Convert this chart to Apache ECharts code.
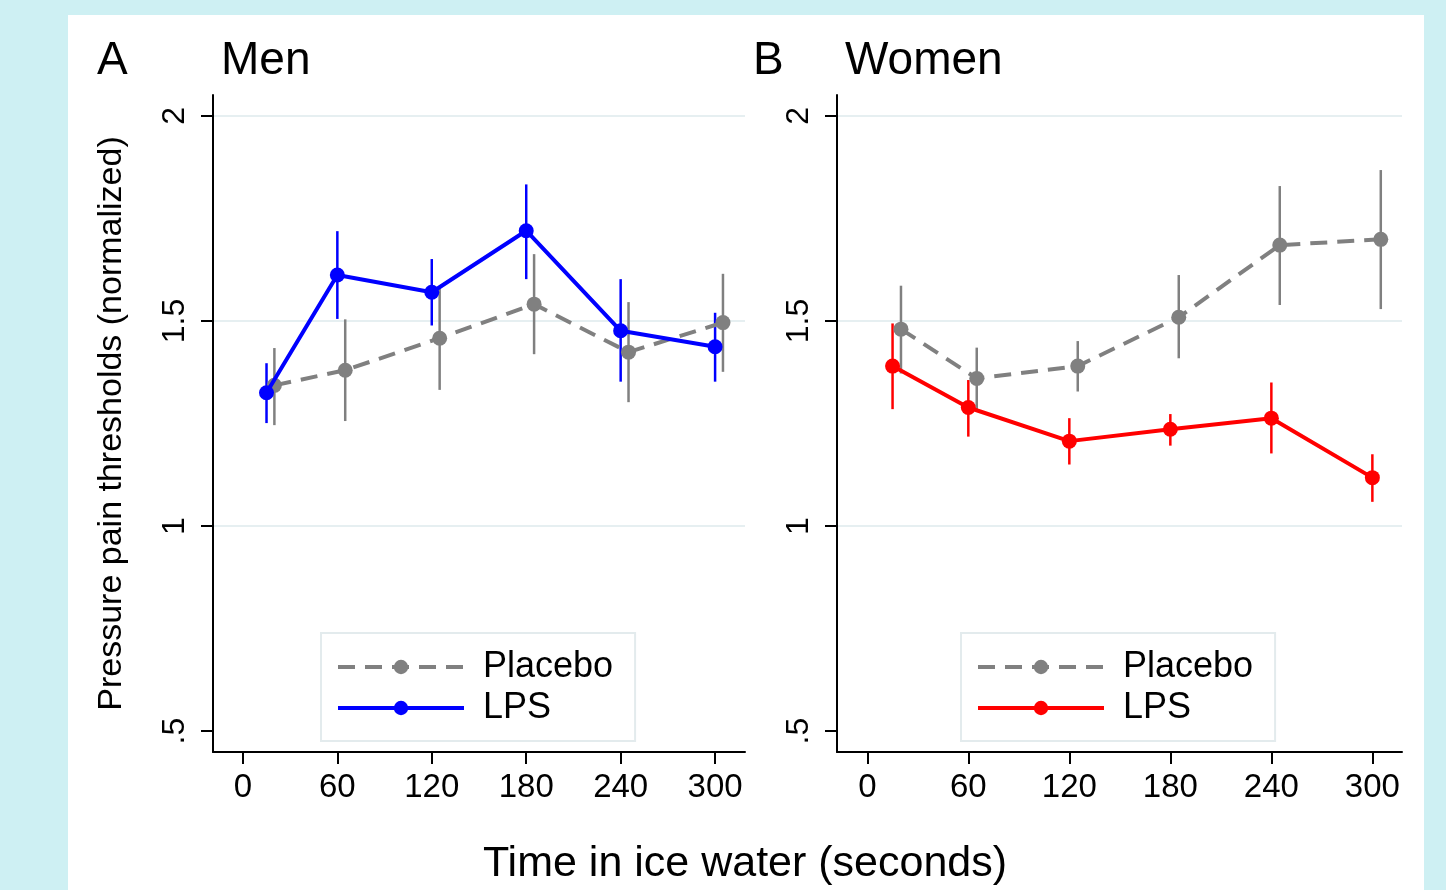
<!DOCTYPE html>
<html><head><meta charset="utf-8">
<script src="https://cdn.jsdelivr.net/npm/echarts@6/dist/echarts.min.js"></script>
<style>
html,body{margin:0;padding:0;background:#cef0f3;width:1446px;height:890px;overflow:hidden}
#panel{position:absolute;left:68px;top:15px;width:1356px;height:875px;background:#fff}
#chart{position:absolute;left:0;top:0;width:1446px;height:890px}
</style></head><body>
<div id="panel"></div><div id="chart"></div>
<script>
// ---- data ----
const placeboTimes = [20, 65, 125, 185, 245, 305];
const lpsTimes     = [15, 60, 120, 180, 240, 300];

const menPlaceboMean = [1.343, 1.380, 1.458, 1.541, 1.424, 1.496];
const menPlaceboLo   = [1.246, 1.256, 1.332, 1.419, 1.302, 1.376];
const menPlaceboHi   = [1.434, 1.504, 1.584, 1.663, 1.546, 1.615];

const menLpsMean = [1.325, 1.612, 1.570, 1.720, 1.476, 1.437];
const menLpsLo   = [1.251, 1.505, 1.489, 1.602, 1.352, 1.352];
const menLpsHi   = [1.397, 1.719, 1.651, 1.833, 1.602, 1.520];

const womenPlaceboMean = [1.480, 1.360, 1.390, 1.509, 1.685, 1.699];
const womenPlaceboLo   = [1.372, 1.285, 1.328, 1.409, 1.539, 1.529];
const womenPlaceboHi   = [1.586, 1.435, 1.451, 1.612, 1.829, 1.868];

const womenLpsMean = [1.390, 1.289, 1.207, 1.236, 1.263, 1.118];
const womenLpsLo   = [1.285, 1.218, 1.150, 1.196, 1.177, 1.059];
const womenLpsHi   = [1.494, 1.356, 1.263, 1.273, 1.350, 1.175];

const xTicks = [0, 60, 120, 180, 240, 300];
const yTicks = [0.5, 1, 1.5, 2];
const yTickLabels = ['.5', '1', '1.5', '2'];
const gridValues = [1, 1.5, 2];
const seriesNames = ['Placebo', 'LPS'];
const panelLetters = ['A', 'B'];
const panelTitles = ['Men', 'Women'];
const xTitle = 'Time in ice water (seconds)';
const yTitle = 'Pressure pain thresholds (normalized)';

// ---- styling ----
const FONT = 'Liberation Sans, Arial, Helvetica, sans-serif';
const GRAY = '#808080', BLUE = '#0000ff', RED = '#ff0000';
const panels = [
  {mean: [menPlaceboMean, menLpsMean], lo: [menPlaceboLo, menLpsLo], hi: [menPlaceboHi, menLpsHi], colors: [GRAY, BLUE],
   grid: {left: 213, top: 95, width: 532, height: 657}, xRange: [-19, 319], legend: {left: 321, top: 633}},
  {mean: [womenPlaceboMean, womenLpsMean], lo: [womenPlaceboLo, womenLpsLo], hi: [womenPlaceboHi, womenLpsHi], colors: [GRAY, RED],
   grid: {left: 837, top: 95, width: 565, height: 657}, xRange: [-18, 317.6], legend: {left: 961, top: 633}}
];
const times = [placeboTimes, lpsTimes];

const grids = [], xAxes = [], yAxes = [], series = [], legends = [];
panels.forEach((p, pi) => {
  grids.push(Object.assign({outerBoundsMode: 'none', containLabel: false}, p.grid));
  xAxes.push({
    gridIndex: pi, type: 'value', min: p.xRange[0], max: p.xRange[1],
    axisLine: {show: true, onZero: false, lineStyle: {color: '#000', width: 2}},
    axisTick: {show: true, length: 12, customValues: xTicks, lineStyle: {color: '#000', width: 2}},
    axisLabel: {customValues: xTicks, fontSize: 33, color: '#000', fontFamily: FONT, margin: 19},
    splitLine: {show: false}
  });
  yAxes.push({
    gridIndex: pi, type: 'value', min: 0.449, max: 2.051,
    name: pi === 0 ? yTitle : '', nameLocation: 'middle', nameGap: 84, nameRotate: 90,
    nameTextStyle: {fontSize: 34, color: '#000', fontFamily: FONT},
    axisLine: {show: true, onZero: false, lineStyle: {color: '#000', width: 2}},
    axisTick: {show: true, length: 12, customValues: yTicks, lineStyle: {color: '#000', width: 2}},
    axisLabel: {customValues: yTicks, rotate: 90, fontSize: 32, color: '#000', fontFamily: FONT, margin: 22,
      formatter: v => yTickLabels[yTicks.indexOf(v)]},
    splitLine: {show: false}
  });
  // gridlines
  series.push({
    type: 'custom', xAxisIndex: pi, yAxisIndex: pi, z: 0, silent: true,
    data: gridValues.map(v => [0, v]), encode: {x: 0, y: 1},
    renderItem: (params, api) => {
      const y = api.coord([api.value(0), api.value(1)])[1];
      const cs = params.coordSys;
      return {type: 'line', shape: {x1: cs.x, y1: y, x2: cs.x + cs.width, y2: y},
        style: {stroke: '#e6eff1', lineWidth: 2}};
    }
  });
  // error bars then lines
  [0, 1].forEach(si => {
    const col = p.colors[si];
    series.push({
      type: 'custom', xAxisIndex: pi, yAxisIndex: pi, z: 1, silent: true,
      data: times[si].map((t, i) => [t, p.lo[si][i], p.hi[si][i]]), encode: {x: 0, y: [1, 2]},
      renderItem: (params, api) => {
        const a = api.coord([api.value(0), api.value(1)]);
        const b = api.coord([api.value(0), api.value(2)]);
        return {type: 'line', shape: {x1: a[0], y1: a[1], x2: b[0], y2: b[1]},
          style: {stroke: col, lineWidth: 2.5}};
      }
    });
  });
  [0, 1].forEach(si => {
    const col = p.colors[si];
    series.push({
      name: seriesNames[si], type: 'line', xAxisIndex: pi, yAxisIndex: pi, z: 2 + si,
      data: times[si].map((t, i) => [t, p.mean[si][i]]),
      symbol: 'circle', symbolSize: 15, showAllSymbol: true, animation: false,
      itemStyle: {color: col},
      lineStyle: {color: col, width: 4, type: si === 0 ? [17, 10] : 'solid'}
    });
  });
  legends.push({
    left: p.legend.left, top: p.legend.top, orient: 'vertical', selectedMode: false,
    data: seriesNames.map((n, si) => ({name: n, itemStyle: {color: p.colors[si]},
      lineStyle: {color: p.colors[si], width: 4, type: si === 0 ? [17, 10] : 'solid'}})),
    itemWidth: 126, itemHeight: 18, itemGap: 5,
    textStyle: {fontSize: 36, color: '#000', fontFamily: FONT, lineHeight: 36, padding: [0, 0, 0, 14]},
    backgroundColor: '#fff', borderColor: '#e3ebed', borderWidth: 2, padding: [16, 22, 15, 15]
  });
});

const graphics = [];
panelLetters.forEach((L, i) => {
  graphics.push({type: 'text', x: [97, 753][i], y: 61, style: {text: L, fontSize: 46, fontFamily: FONT, fill: '#000', verticalAlign: 'middle'}});
  graphics.push({type: 'text', x: [221, 845][i], y: 61, style: {text: panelTitles[i], fontSize: 46, fontFamily: FONT, fill: '#000', verticalAlign: 'middle'}});
});
graphics.push({type: 'text', x: 745, y: 864, style: {text: xTitle, fontSize: 43, fontFamily: FONT, fill: '#000', align: 'center', verticalAlign: 'middle'}});

const chart = echarts.init(document.getElementById('chart'), null, {renderer: 'canvas'});
chart.setOption({
  animation: false,
  backgroundColor: 'transparent',
  grid: grids, xAxis: xAxes, yAxis: yAxes, series: series, legend: legends,
  graphic: graphics, tooltip: {show: false}
});
</script></body></html>
